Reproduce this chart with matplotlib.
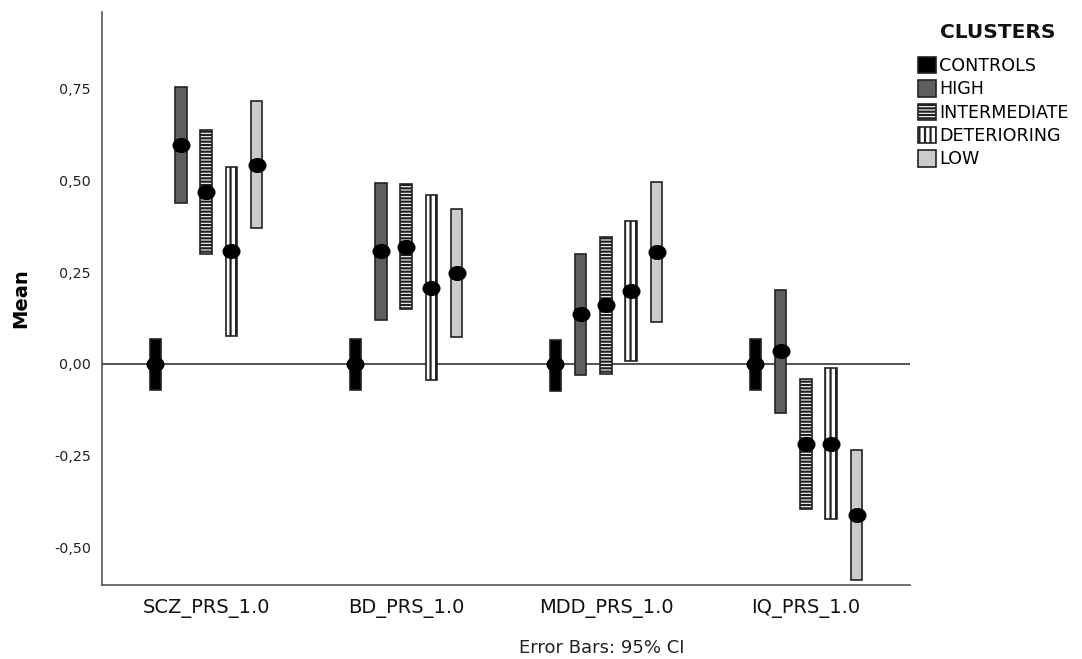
import matplotlib
matplotlib.use("Agg")
import matplotlib.pyplot as plt
from matplotlib.patches import Patch
from matplotlib.path import Path
from matplotlib.transforms import Affine2D
from matplotlib.ticker import FuncFormatter
import numpy as np

categories = ["SCZ_PRS_1.0", "BD_PRS_1.0", "MDD_PRS_1.0", "IQ_PRS_1.0"]
clusters = ["CONTROLS", "HIGH", "INTERMEDIATE", "DETERIORING", "LOW"]

# means per cluster, for each category
means_controls = [0.0, 0.0, 0.0, 0.0]
means_high = [0.597, 0.308, 0.136, 0.035]
means_intermediate = [0.468, 0.318, 0.160, -0.218]
means_deterioring = [0.308, 0.208, 0.200, -0.218]
means_low = [0.543, 0.247, 0.304, -0.412]

# 95% CI lower / upper
lo_controls = [-0.072, -0.072, -0.075, -0.071]
hi_controls = [0.068, 0.068, 0.064, 0.069]
lo_high = [0.439, 0.120, -0.030, -0.134]
hi_high = [0.755, 0.493, 0.300, 0.202]
lo_intermediate = [0.299, 0.149, -0.028, -0.396]
hi_intermediate = [0.638, 0.490, 0.347, -0.041]
lo_deterioring = [0.077, -0.045, 0.009, -0.424]
hi_deterioring = [0.538, 0.461, 0.391, -0.011]
lo_low = [0.371, 0.073, 0.114, -0.589]
hi_low = [0.717, 0.423, 0.495, -0.235]

yticks = [-0.50, -0.25, 0.0, 0.25, 0.50, 0.75]

means = [means_controls, means_high, means_intermediate, means_deterioring, means_low]
lows = [lo_controls, lo_high, lo_intermediate, lo_deterioring, lo_low]
highs = [hi_controls, hi_high, hi_intermediate, hi_deterioring, hi_low]
facecolors = ["#000000", "#5e5e5e", "#ffffff", "#ffffff", "#cbcbcb"]
hatches = [None, None, "-----", "|||", None]

plt.rcParams["hatch.linewidth"] = 1.6
plt.rcParams["font.family"] = ["DejaVu Sans"]

ellipse = Path.unit_circle().transformed(Affine2D().scale(1.0, 0.82))

fig = plt.figure(figsize=(10.82, 6.59), dpi=100)
ax = fig.add_axes([0.0943, 0.1123, 0.7467, 0.8695])

x = np.arange(len(categories))
offset = 0.1265
width = 0.058
for i in range(len(clusters)):
    xpos = x + (i - 2) * offset
    lo = np.array(lows[i])
    hi = np.array(highs[i])
    ax.bar(xpos, hi - lo, bottom=lo, width=width, color=facecolors[i],
           edgecolor="#222222", linewidth=1.2, hatch=hatches[i], zorder=3)
    ax.plot(xpos, means[i], linestyle="none", marker=ellipse, color="black",
            markersize=12, zorder=4)

ax.axhline(0, color="#444444", linewidth=1.3, zorder=2)

ax.set_xlim(-0.52, 3.52)
ax.set_ylim(-0.603, 0.96)
ax.set_xticks(x)
ax.set_xticklabels(categories, fontsize=14, color="#111111")
ax.set_yticks(yticks)
ax.yaxis.set_major_formatter(FuncFormatter(lambda v, p: f"{v:.2f}".replace(".", ",")))
ax.tick_params(axis="y", length=0, labelsize=10.3, pad=8, colors="#222222")
ax.tick_params(axis="x", length=0, pad=10)
for s in ["top", "right"]:
    ax.spines[s].set_visible(False)
for s in ["left", "bottom"]:
    ax.spines[s].set_color("#555555")
    ax.spines[s].set_linewidth(1.2)

ax.set_ylabel("Mean", fontsize=14, fontweight="bold")
ax.yaxis.set_label_coords(-0.089, 0.5)

fig.text(0.556, 0.0167, "Error Bars: 95% CI", ha="center", va="center", fontsize=13, color="#222222")

fig.text(998 / 1082, 1 - 33 / 659, "CLUSTERS", ha="center", va="center",
         fontsize=14.5, fontweight="bold", color="#111111")

handles = [Patch(facecolor=facecolors[i], edgecolor="#222222", hatch=hatches[i], linewidth=1.2)
           for i in range(len(clusters))]
leg = fig.legend(handles, clusters, loc="upper left", bbox_to_anchor=(0.848, 1 - 57 / 659),
                 frameon=False, fontsize=12.6,
                 handlelength=1.05, handleheight=1.05, handletextpad=0.2,
                 labelspacing=0.3, borderaxespad=0.0, borderpad=0.0)

fig.savefig("out.png", dpi=100)
